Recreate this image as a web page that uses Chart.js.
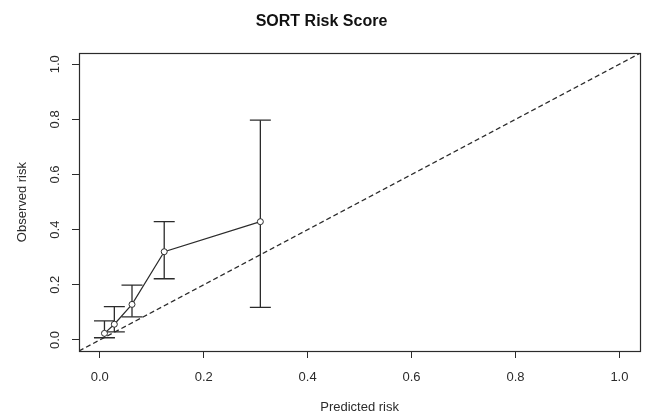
<!DOCTYPE html>
<html>
<head>
<meta charset="utf-8">
<script src="https://cdn.jsdelivr.net/npm/chart.js@4/dist/chart.umd.min.js"></script>
<style>
    html, body { margin: 0; padding: 0; background: #fff; }
    #wrap { width: 652px; height: 416px; }
</style>
</head>
<body>
<div id="wrap"><canvas id="grafico"></canvas></div>
<script>
// values
const predicted = [0.009, 0.028, 0.062, 0.124, 0.309];
const observed  = [0.024, 0.057, 0.129, 0.320, 0.429];
const lower     = [0.008, 0.029, 0.084, 0.222, 0.118];
const upper     = [0.069, 0.121, 0.199, 0.429, 0.797];
const tickValues = [0, 0.2, 0.4, 0.6, 0.8, 1.0];
const axisRange  = [-0.04, 1.04];

const ink = "#2b2b2b";
const family = "'Liberation Sans', Arial, sans-serif";

// plot frame (R style box)
const boxPlugin = {
    id: "box",
    afterDatasetsDraw(chart) {
        const a = chart.chartArea;
        const c = chart.ctx;
        c.save();
        c.strokeStyle = ink;
        c.lineWidth = 1.2;
        c.strokeRect(Math.round(a.left) + 0.5, Math.round(a.top) + 0.5,
            Math.round(a.right - a.left), Math.round(a.bottom - a.top));
        c.restore();
    },
};

document.addEventListener("DOMContentLoaded", function () {
    var datasets = [];

    // y = x reference line
    datasets.push({
        data: axisRange.map(v => ({ x: v, y: v })),
        showLine: true,
        borderColor: ink,
        borderWidth: 1.3,
        borderDash: [5, 3],
        pointRadius: 0,
        order: 3,
    });

    // error bars, caps drawn as "line" point style
    predicted.forEach((p, i) => {
        datasets.push({
            data: [{ x: p, y: lower[i] }, { x: p, y: upper[i] }],
            showLine: true,
            borderColor: ink,
            borderWidth: 1.3,
            pointStyle: "line",
            pointRadius: 10.5,
            pointBorderColor: ink,
            pointBorderWidth: 1.3,
            order: 2,
        });
    });

    datasets.push({
        data: predicted.map((p, i) => ({ x: p, y: observed[i] })),
        showLine: true,
        borderColor: ink,
        borderWidth: 1.2,
        pointRadius: 3,
        pointBackgroundColor: "#fff",
        pointBorderColor: ink,
        pointBorderWidth: 1,
        order: 1,
    });

    var ctx = document.getElementById("grafico").getContext("2d");
    var grafico = new Chart(ctx, {
        type: "scatter",
        data: { datasets: datasets },
        options: {
            responsive: true,
            maintainAspectRatio: false,
            animation: false,
            events: [],
            layout: { padding: { top: 0, right: 9, bottom: 0, left: 0 } },
            plugins: {
                legend: { display: false },
                tooltip: { enabled: false },
                title: {
                    display: true,
                    text: "SORT Risk Score",
                    color: "#111",
                    font: { size: 16, weight: "bold", family: family },
                    padding: { top: 12, bottom: 22 },
                },
            },
            scales: {
                x: {
                    type: "linear",
                    min: axisRange[0],
                    max: axisRange[1],
                    afterBuildTicks: s => { s.ticks = tickValues.map(v => ({ value: v })); },
                    afterFit: s => { s.height = 65; },
                    border: { display: false },
                    grid: { drawOnChartArea: false, drawTicks: true, tickLength: 7, color: ink, lineWidth: 1 },
                    ticks: {
                        color: ink,
                        padding: 12,
                        font: { size: 13, family: family },
                        callback: v => v.toFixed(1),
                    },
                    title: {
                        display: true,
                        text: "Predicted risk",
                        color: ink,
                        font: { size: 13, family: family },
                        padding: { top: 0, bottom: 1 },
                    },
                },
                y: {
                    type: "linear",
                    min: axisRange[0],
                    max: axisRange[1],
                    afterBuildTicks: s => { s.ticks = tickValues.map(v => ({ value: v })); },
                    afterFit: s => { s.width = 79; },
                    border: { display: false },
                    grid: { drawOnChartArea: false, drawTicks: true, tickLength: 7, color: ink, lineWidth: 1 },
                    ticks: {
                        color: ink,
                        padding: 8,
                        minRotation: 90,
                        maxRotation: 90,
                        crossAlign: "center",
                        font: { size: 13, family: family },
                        callback: v => v.toFixed(1),
                    },
                    title: {
                        display: true,
                        text: "Observed risk",
                        color: ink,
                        font: { size: 13, family: family },
                        padding: { top: 15, bottom: 0 },
                    },
                },
            },
        },
        plugins: [boxPlugin],
    });
});
</script>
</body>
</html>
